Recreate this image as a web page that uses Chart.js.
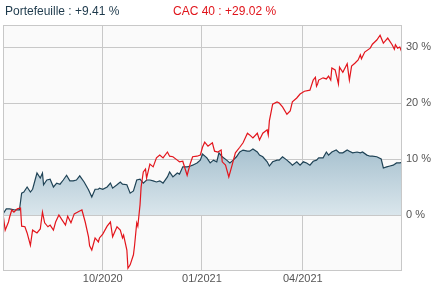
<!DOCTYPE html>
<html lang="fr">
<head>
<meta charset="UTF-8">
<title>Portefeuille vs CAC 40</title>
<script src="https://cdn.jsdelivr.net/npm/chart.js@4"></script>
<style>
  body { margin: 0; background: #fff; font-family: "Liberation Sans", Arial, sans-serif; }
  #wrap { position: relative; width: 433px; height: 287px; }
  .perf { position: absolute; top: 4px; font-size: 12px; white-space: nowrap; }
  #perfPort { left: 5px; color: #1e3a4c; }
  #perfCac { left: 173px; color: #e0141b; }
</style>
</head>
<body>
<div id="wrap">
  <canvas id="chart" width="433" height="287"></canvas>
  <div class="perf" id="perfPort">Portefeuille : +9.41 %</div>
  <div class="perf" id="perfCac">CAC 40 : +29.02 %</div>
</div>

<script>
// jours depuis le 01/07/2020, performance en %
const portDays = [0,3,6,11,15,17,19,22,25,27,31,34,36,37,40,43,46,49,52,55,58,61,64,67,70,74,78,81,84,87,88,91,95,98,100,104,107,109,113,116,119,122,125,128,131,134,137,140,143,146,150,152,155,159,161,164,168,171,173,177,180,182,186,189,192,195,197,200,204,207,210,213,216,219,223,225,228,232,234,237,241,243,246,250,252,255,259,262,264,268,271,274,277,280,283,286,288,292,295,297,300,304,307,310,314,316,319,323,326,328,332,335,337,341,345,347,350,353,356,359,362,364];
const portPerf = [0.2,1.1,1.1,0.9,0.9,3.9,4.1,5.0,4.1,4.6,7.5,6.6,7.5,5.4,6.25,6.4,5.0,5.7,5.5,6.25,7.1,6.1,6.1,6.25,7.0,5.9,4.5,3.2,4.6,4.6,4.8,4.6,5.0,5.7,4.8,5.4,5.9,5.5,5.4,3.9,4.3,6.25,6.4,5.7,6.25,6.25,6.1,5.9,6.1,5.7,6.8,7.7,6.8,7.5,7.3,8.6,8.6,8.75,8.9,9.3,9.8,10.9,10.2,9.3,9.8,9.5,11.1,10.4,9.8,9.3,9.8,10.4,11.25,11.6,11.4,11.4,11.8,11.25,10.7,10.4,9.5,8.75,9.5,9.8,9.8,10.4,9.8,9.3,8.9,9.5,8.9,9.5,9.3,8.9,9.6,9.8,10.2,10.2,11.25,10.7,11.25,11.6,11.1,11.1,11.6,11.4,11.1,11.25,11.1,11.25,10.7,10.5,10.5,10.4,10.0,8.4,8.6,8.75,8.9,9.3,9.3,9.41];

const cacDays = [0,2,5,6,8,10,13,16,17,20,22,25,27,31,34,36,38,41,43,46,48,51,54,57,59,62,65,67,70,72,75,78,79,81,84,87,88,91,95,98,100,104,107,109,110,113,114,116,119,120,122,123,125,126,128,130,131,134,137,140,143,146,150,152,155,159,161,164,168,171,173,177,180,182,184,187,191,193,196,199,200,203,206,209,212,216,219,223,225,228,232,234,237,241,242,243,246,250,252,255,259,262,264,268,271,275,280,283,285,286,287,288,292,295,297,299,300,303,306,307,310,314,316,318,321,324,326,327,330,335,337,341,344,347,348,351,355,357,358,360,362,364];
const cacPerf = [0.2,-2.7,-1.25,-0.4,0.9,0.5,1.1,1.25,-2.0,-2.1,-3.2,-5.4,-2.7,-3.2,-2.5,0.5,-1.4,-2.1,-1.8,-2.7,-1.25,0,-0.9,-1.8,-0.2,-1.4,0.2,0.4,0.7,0.9,-1.25,-3.9,-5.5,-6.25,-4.1,-4.8,-4.1,-3.4,-2.0,-1.25,-3.9,-2.1,-2.7,-4.1,-3.6,-6.25,-9.5,-8.9,-7.1,-5.5,-1.4,-2.0,1.8,5.0,7.7,8.2,6.6,9.1,8.6,10.2,10.7,10.2,11.25,10.5,10.4,9.8,9.5,9.6,7.1,9.3,10.4,10.5,10.7,12.1,13.0,12.3,12.9,11.4,11.25,11.6,9.5,8.9,6.8,8.9,11.1,12.1,12.9,14.6,14.3,13.75,14.6,13.4,14.6,15.2,14.3,16.8,19.8,20.2,20.0,19.3,18.0,18.6,20.2,20.9,21.6,22.1,22.3,24.1,24.6,23.0,23.4,24.1,24.5,24.3,24.8,24.1,26.25,25.9,23.4,26.4,25.5,27.0,24.1,26.6,27.1,27.7,28.6,27.9,29.1,29.8,30.5,31.25,32.1,30.7,30.9,31.6,30.4,29.6,30.4,29.8,30.0,29.02];

const xTickDays = [91, 181.5, 273.5];
const xTickLabels = ['10/2020', '01/2021', '04/2021'];
const yTicks = [0, 10, 20, 30];

function toPoints(xs, ys) {
  return xs.map((x, i) => ({ x: x, y: ys[i] }));
}

const plotFrame = {
  id: 'plotFrame',
  beforeDraw(chart) {
    const a = chart.chartArea, c = chart.ctx;
    c.save();
    c.fillStyle = '#fafafa';
    c.fillRect(a.left, a.top, a.right - a.left, a.bottom - a.top);
    c.restore();
  },
  afterDraw(chart) {
    const a = chart.chartArea, c = chart.ctx;
    c.save();
    c.strokeStyle = '#c8c8c8';
    c.lineWidth = 1;
    c.strokeRect(a.left + 0.5, a.top + 0.5, a.right - a.left - 1, a.bottom - a.top);
    c.restore();
  }
};

function areaFill(context) {
  const chart = context.chart;
  const a = chart.chartArea;
  if (!a) return 'rgba(170,196,210,0.8)';
  const y = chart.scales.y;
  const g = chart.ctx.createLinearGradient(0, y.getPixelForValue(12), 0, y.getPixelForValue(0));
  g.addColorStop(0, '#a7c1cf');
  g.addColorStop(1, '#dae6ec');
  return g;
}

new Chart(document.getElementById('chart'), {
  type: 'line',
  data: {
    datasets: [
      {
        label: 'CAC 40',
        data: toPoints(cacDays, cacPerf),
        borderColor: '#e3151c',
        borderWidth: 1.2,
        pointRadius: 0,
        fill: false,
        tension: 0
      },
      {
        label: 'Portefeuille',
        data: toPoints(portDays, portPerf),
        borderColor: '#1f4356',
        borderWidth: 1.2,
        pointRadius: 0,
        fill: 'origin',
        backgroundColor: areaFill,
        tension: 0
      }
    ]
  },
  options: {
    responsive: false,
    animation: false,
    layout: { padding: { left: 3, top: 25, right: 0, bottom: 0 } },
    plugins: { legend: { display: false }, tooltip: { enabled: false } },
    scales: {
      x: {
        type: 'linear',
        min: 0,
        max: 364,
        afterBuildTicks: s => { s.ticks = xTickDays.map(v => ({ value: v })); },
        afterFit: s => { s.height = 17; },
        ticks: {
          autoSkip: false,
          maxRotation: 0,
          padding: 2,
          color: '#555',
          font: { family: 'Liberation Sans', size: 11 },
          callback: (v, i) => xTickLabels[i]
        },
        grid: { color: '#c8c8c8', drawTicks: false },
        border: { display: false }
      },
      y: {
        position: 'right',
        min: -9.82,
        max: 33.93,
        afterBuildTicks: s => { s.ticks = yTicks.map(v => ({ value: v })); },
        afterFit: s => { s.width = 31; },
        ticks: {
          padding: 4,
          color: '#555',
          font: { family: 'Liberation Sans', size: 11 },
          callback: v => v + ' %'
        },
        grid: { color: '#c8c8c8', drawTicks: false },
        border: { display: false }
      }
    }
  },
  plugins: [plotFrame]
});
</script>
</body>
</html>
